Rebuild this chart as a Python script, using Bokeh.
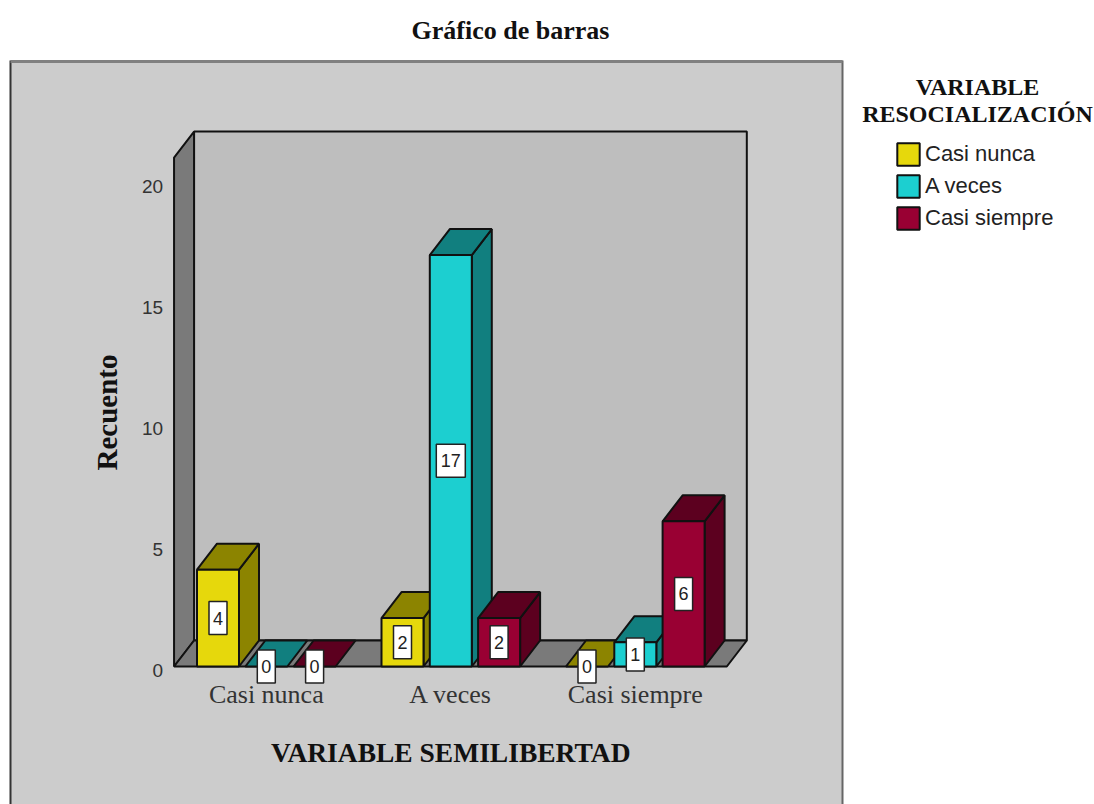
from bokeh.plotting import figure
from bokeh.models import (Range1d, LinearAxis, FixedTicker, Label, Legend, LegendItem,
                          ColumnDataSource, BoxAnnotation)
from bokeh.embed import file_html
from bokeh.resources import INLINE

# ---- data ----
chart_title = "Gráfico de barras"
categories = ["Casi nunca", "A veces", "Casi siempre"]
series_names = ["Casi nunca", "A veces", "Casi siempre"]
casi_nunca = [4, 2, 0]
a_veces = [0, 17, 1]
casi_siempre = [0, 2, 6]
y_ticks = [0, 5, 10, 15, 20]
x_title = "VARIABLE SEMILIBERTAD"
y_title = "Recuento"
legend_title = ["VARIABLE", "RESOCIALIZACIÓN"]

series_values = [casi_nunca, a_veces, casi_siempre]
front_colors = ["#E6D80C", "#1CCFD0", "#990033"]
dark_colors = ["#8C8400", "#117F7F", "#5C001F"]

# ---- calibration: pixel positions of the chart in the picture ----
PX_X0, PX_PER_X = 265.8, 184.5
PX_Y0, PX_PER_Y = 666.0, 24.2
def dx(px): return (px - PX_X0) / PX_PER_X
def dy(px): return (PX_Y0 - px) / PX_PER_Y

DEPTH_X, DEPTH_Y = 20 / PX_PER_X, 26 / PX_PER_Y
BAR_W, BAR_STEP = 42 / PX_PER_X, 48.3 / PX_PER_X
WALL_LEFT, WALL_RIGHT, WALL_TOP = -0.5, 2.496, 21.03
EDGE = "#111111"

W, H = 1094, 804
p = figure(width=W, height=H, output_backend="svg", toolbar_location=None,
           x_range=Range1d(dx(0), dx(W)), y_range=Range1d(dy(H), dy(52)),
           x_axis_location=None, y_axis_location=None,
           min_border_left=0, min_border_right=0, min_border_top=52, min_border_bottom=0,
           background_fill_color="white", border_fill_color="white",
           outline_line_color=None)
p.grid.visible = False
# tick labels sit a little lower than their values in the reference
p.extra_y_ranges = {"labels": Range1d(dy(H - 4), dy(52 - 4))}

# title
p.title.text = chart_title
p.title.align = "left"
p.title.offset = 411
p.title.standoff = 16
p.title.text_font = "Liberation Serif"
p.title.text_font_size = "26px"
p.title.text_font_style = "bold"
p.title.text_color = "#111111"

# grey panel and its edges
p.add_layout(BoxAnnotation(left=dx(10), right=dx(842), top=dy(60), bottom=dy(H),
                           fill_color="#CCCCCC", fill_alpha=1, line_color=None, level="underlay"))
p.segment(dx(10), dy(60), dx(10), dy(H), line_color="#333333", line_width=2)
p.segment(dx(842), dy(60), dx(842), dy(H), line_color="#666666", line_width=2)
p.segment(dx(10), dy(61), dx(842), dy(61), line_color="#808080", line_width=3)

# 3D walls
wl, wr, wt = WALL_LEFT, WALL_RIGHT, WALL_TOP
p.patch([wl + DEPTH_X, wr + DEPTH_X, wr + DEPTH_X, wl + DEPTH_X],
        [DEPTH_Y, DEPTH_Y, wt + DEPTH_Y, wt + DEPTH_Y],
        fill_color="#BEBEBE", line_color=EDGE, line_width=2)
p.patch([wl, wl + DEPTH_X, wl + DEPTH_X, wl], [0, DEPTH_Y, wt + DEPTH_Y, wt],
        fill_color="#7A7A7A", line_color=EDGE, line_width=2)
p.patch([wl, wl + DEPTH_X, wr + DEPTH_X, wr], [0, DEPTH_Y, DEPTH_Y, 0],
        fill_color="#7A7A7A", line_color=EDGE, line_width=2)

# bars, drawn left to right so that each hides the side of the one before it
legend_renderers = {}
box_x, box_y, box_txt, box_w = [], [], [], []
for c in range(len(categories)):
    for s in range(len(series_names)):
        v = series_values[s][c]
        left = c + (s - 1) * BAR_STEP - BAR_W / 2
        right = left + BAR_W
        if v > 0:
            p.patch([right, right + DEPTH_X, right + DEPTH_X, right],
                    [0, DEPTH_Y, v + DEPTH_Y, v],
                    fill_color=dark_colors[s], line_color=EDGE, line_width=2)
        p.patch([left, right, right + DEPTH_X, left + DEPTH_X],
                [v, v, v + DEPTH_Y, v + DEPTH_Y],
                fill_color=dark_colors[s], line_color=EDGE, line_width=2)
        if v > 0:
            r = p.quad(left=left, right=right, bottom=0, top=v,
                       fill_color=front_colors[s], line_color=EDGE, line_width=2)
            legend_renderers.setdefault(s, r)
        box_x.append(c + (s - 1) * BAR_STEP)
        box_y.append(v / 2)
        box_txt.append(str(v))
        box_w.append(18 if v < 10 else 29)

# value boxes
src = ColumnDataSource(dict(x=box_x, y=box_y, t=box_txt, w=box_w))
p.rect("x", "y", width="w", height=33, width_units="screen", height_units="screen", source=src,
       fill_color="white", line_color="#222222", line_width=1.5, level="overlay")
p.text("x", "y", text="t", source=src, text_align="center", text_baseline="middle",
       text_font={"value": "Liberation Sans"}, text_font_size={"value": "18px"},
       text_color="#222222", level="overlay")

# axes
yax = LinearAxis(fixed_location=WALL_LEFT, ticker=FixedTicker(ticks=y_ticks), y_range_name="labels")
yax.axis_line_color = None
yax.major_tick_line_color = None
yax.minor_tick_line_color = None
yax.major_label_standoff = 5
yax.major_label_text_font = "Liberation Sans"
yax.major_label_text_font_size = "19px"
yax.major_label_text_color = "#333333"
p.add_layout(yax, "left")

xax = LinearAxis(fixed_location=0, ticker=FixedTicker(ticks=list(range(len(categories)))),
                 major_label_overrides={i: c for i, c in enumerate(categories)})
xax.axis_line_color = None
xax.major_tick_line_color = None
xax.minor_tick_line_color = None
xax.major_label_standoff = 7
xax.major_label_text_font = "Liberation Serif"
xax.major_label_text_font_size = "26px"
xax.major_label_text_color = "#333333"
p.add_layout(xax, "below")

# axis titles
p.add_layout(Label(x=1, y=dy(752), text=x_title, text_align="center", text_baseline="middle",
                   text_font="Liberation Serif", text_font_size="27.5px", text_font_style="bold",
                   text_color="#111111"))
p.add_layout(Label(x=dx(106), y=dy(412), text=y_title, angle=90, angle_units="deg",
                   text_align="center", text_baseline="middle",
                   text_font="Liberation Serif", text_font_size="29px", text_font_style="bold",
                   text_color="#111111"))

# legend
p.add_layout(Label(x=dx(977), y=dy(86), text=legend_title[0], text_align="center", text_baseline="middle",
                   text_font="Liberation Serif", text_font_size="24px", text_font_style="bold",
                   text_color="#111111"))
p.add_layout(Label(x=dx(977), y=dy(113), text=legend_title[1], text_align="center", text_baseline="middle",
                   text_font="Liberation Serif", text_font_size="24px", text_font_style="bold",
                   text_color="#111111"))
legend = Legend(items=[LegendItem(label=series_names[s], renderers=[legend_renderers[s]])
                       for s in range(len(series_names))],
                location=(894, H - 232), orientation="vertical",
                background_fill_alpha=0, border_line_color=None,
                glyph_width=28, glyph_height=28, spacing=4, label_standoff=3,
                margin=0, padding=0, label_height=28,
                label_text_font="Liberation Sans", label_text_font_size="22px",
                label_text_color="#222222")
p.add_layout(legend, "center")

open("out.html", "w").write(file_html(p, INLINE))
